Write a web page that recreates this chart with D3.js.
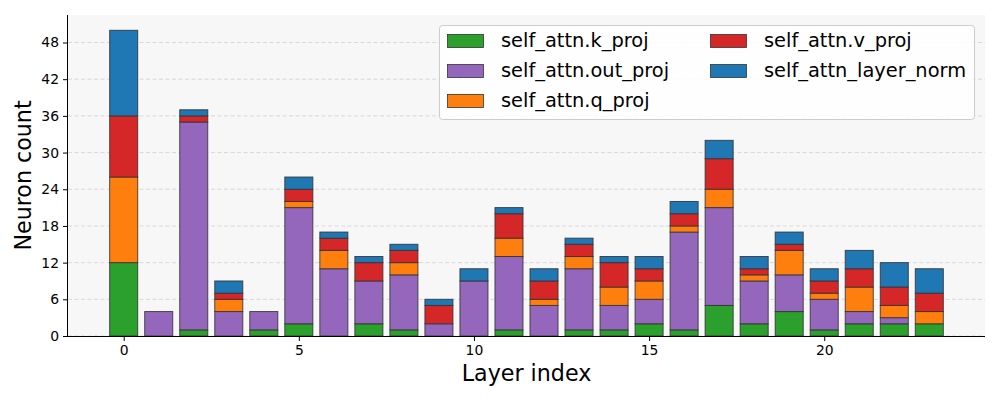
<!DOCTYPE html>
<html><head><meta charset="utf-8">
<script src="https://cdn.jsdelivr.net/npm/d3@7"></script>
<style>body{margin:0;background:#fff;} svg{display:block;font-family:"DejaVu Sans",sans-serif;}</style>
</head><body><svg id="c" width="1000" height="400"></svg>
<script>
const layers = d3.range(24);
const seriesNames = ["self_attn.k_proj","self_attn.out_proj","self_attn.q_proj","self_attn.v_proj","self_attn_layer_norm"];
const colors = ["#2ca02c","#9467bd","#ff7f0e","#d62728","#1f77b4"];
const kProj   = [12,0,1,0,1,2,0,2,1,0,0,1,0,1,1,2,1,5,2,4,1,2,2,2];
const outProj = [0,4,34,4,3,19,11,7,9,2,9,12,5,10,4,4,16,16,7,6,5,2,1,0];
const qProj   = [14,0,0,2,0,1,3,0,2,0,0,3,1,2,3,3,1,3,1,4,1,4,2,2];
const vProj   = [10,0,1,1,0,2,2,3,2,3,0,4,3,2,4,2,2,5,1,1,2,3,3,3];
const layerNorm = [14,0,1,2,0,2,1,1,1,1,2,1,2,1,1,2,2,3,2,2,2,3,4,4];
const yTicks = [0,6,12,18,24,30,36,42,48];
const xTicks = [0,5,10,15,20];

const seriesVals = [kProj,outProj,qProj,vProj,layerNorm];
const rows = layers.map((l,i)=>{const r={layer:l}; seriesNames.forEach((s,j)=>r[s]=seriesVals[j][i]); return r;});
const stack = d3.stack().keys(seriesNames)(rows);

const svg = d3.select("#c");
const m = {l:68,r:985,t:15,b:336};
const x = d3.scaleLinear().domain([-1.59,24.59]).range([m.l,m.r]);
const y = d3.scaleLinear().domain([0,52.5]).range([m.b,m.t]);

svg.append("rect").attr("x",m.l).attr("y",m.t).attr("width",m.r-m.l).attr("height",m.b-m.t).attr("fill","#f7f7f7");

// grid
svg.append("g").selectAll("line").data(yTicks).join("line")
  .attr("x1",m.l).attr("x2",m.r).attr("y1",d=>y(d)).attr("y2",d=>y(d))
  .attr("stroke","#d0d0d0").attr("stroke-width",0.8).attr("stroke-dasharray","4,2.5");

const bw = x(0.8)-x(0);
stack.forEach((s,j)=>{
  svg.append("g").selectAll("rect").data(s.filter(d=>d[1]-d[0]>0)).join("rect")
    .attr("x",d=>x(d.data.layer)-bw/2).attr("width",bw)
    .attr("y",d=>y(d[1])).attr("height",d=>y(d[0])-y(d[1]))
    .attr("fill",colors[j]).attr("stroke","#333").attr("stroke-opacity",0.85).attr("stroke-width",1);
});

// axes
const xa = svg.append("g").attr("transform",`translate(0,${m.b})`)
  .call(d3.axisBottom(x).tickValues(xTicks).tickSize(5).tickPadding(4).tickFormat(d3.format("d")));
xa.select(".domain").attr("d",`M${m.l},0.5H${m.r}`).attr("stroke","#000");
const ya = svg.append("g").attr("transform",`translate(${m.l},0)`)
  .call(d3.axisLeft(y).tickValues(yTicks).tickSize(5).tickPadding(4));
ya.select(".domain").attr("d",`M-0.5,${m.t}V${m.b}`).attr("stroke","#000");
[xa,ya].forEach(a=>a.attr("font-size",13.9).attr("font-family","DejaVu Sans"));
svg.selectAll(".tick text").attr("fill","#000");

svg.append("text").attr("x",(m.l+m.r)/2).attr("y",381).attr("text-anchor","middle")
  .attr("font-size",22.2).text("Layer index");
svg.append("text").attr("transform",`translate(31,${(m.t+m.b)/2}) rotate(-90)`).attr("text-anchor","middle")
  .attr("font-size",22.2).text("Neuron count");

// legend
const lg = svg.append("g");
lg.append("rect").attr("x",439.5).attr("y",25.5).attr("width",535).attr("height",94).attr("rx",3)
  .attr("fill","#fff").attr("fill-opacity",0.85).attr("stroke","#ccc");
const legendPos = [[0,0],[0,1],[0,2],[1,0],[1,1]];
seriesNames.forEach((s,j)=>{
  const [c,r] = legendPos[j];
  const px = 447 + c*263, py = 34 + r*30;
  lg.append("rect").attr("x",px+0.5).attr("y",py+0.5).attr("width",36).attr("height",13)
    .attr("fill",colors[j]).attr("stroke","#333").attr("stroke-width",0.8);
  lg.append("text").attr("x",px+54).attr("y",py+13).attr("font-size",19.4).text(s);
});
</script></body></html>
